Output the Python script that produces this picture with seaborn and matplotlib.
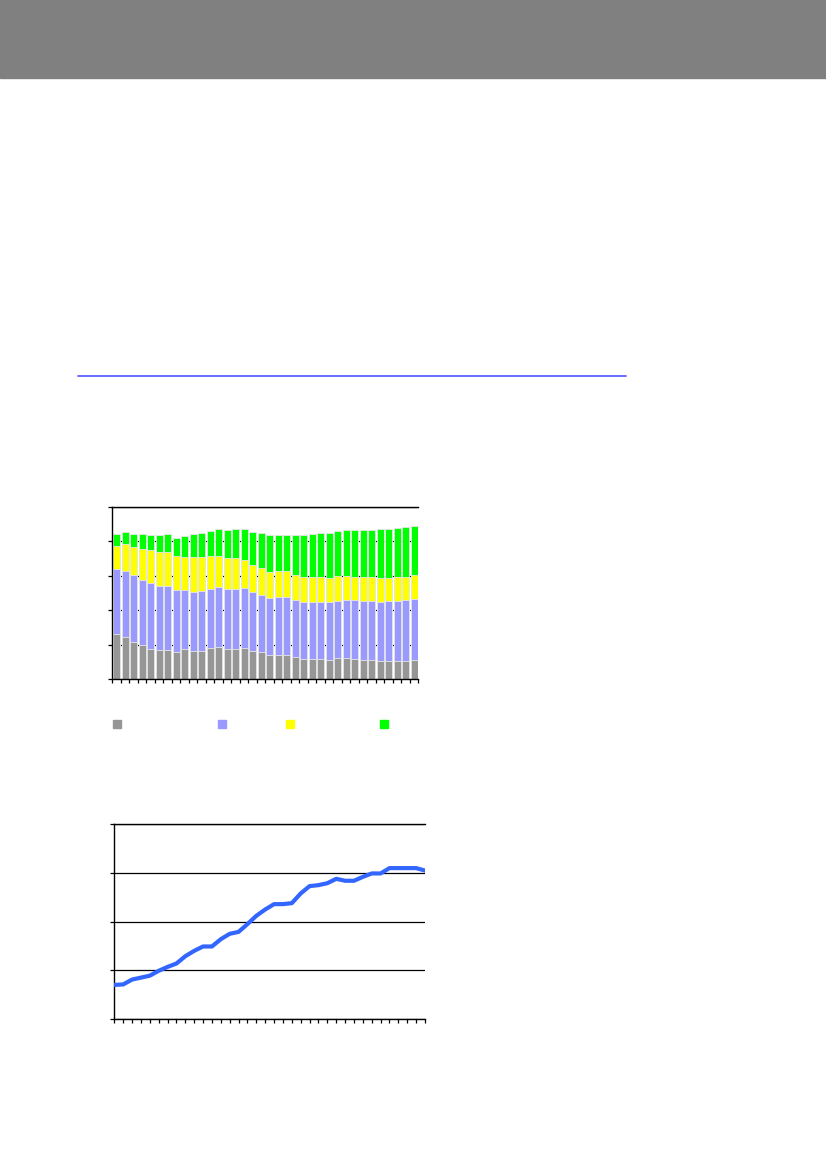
import numpy as np
import pandas as pd
import matplotlib
matplotlib.use("Agg")
import matplotlib.pyplot as plt
from matplotlib.lines import Line2D
from matplotlib.patches import Rectangle
import seaborn as sns

sns.set_style("white")

# Datos (36 periodos)
periodos = list(range(36))
gris = [13.2, 12.3, 10.7, 9.9, 8.7, 8.4, 8.4, 7.8, 8.7, 8.1, 8.1, 9.0,
        9.3, 8.7, 8.7, 9.0, 8.1, 7.8, 7.1, 7.1, 7.1, 6.5, 5.9, 5.9,
        5.9, 5.6, 6.2, 6.2, 5.9, 5.6, 5.6, 5.3, 5.3, 5.3, 5.3, 5.6]
azul = [18.7, 19.1, 19.4, 18.8, 19.2, 18.7, 18.7, 18.0, 17.1, 17.1, 17.4, 17.1,
        17.5, 17.4, 17.4, 17.4, 17.1, 16.5, 16.4, 16.7, 16.7, 16.4, 16.4, 16.4,
        16.4, 16.7, 16.4, 16.7, 17.0, 17.0, 17.0, 17.0, 17.3, 17.3, 17.6, 17.6]
amarillo = [6.7, 7.8, 8.1, 9.1, 9.5, 9.7, 9.7, 9.8, 9.5, 10.1, 9.8, 9.5,
            8.8, 8.9, 8.9, 8.0, 7.9, 7.8, 7.5, 7.5, 7.5, 7.4, 7.4, 7.3,
            7.3, 7.0, 7.2, 6.9, 6.7, 7.0, 7.0, 7.0, 6.7, 7.0, 6.7, 6.9]
verde = [3.4, 3.4, 4.0, 4.3, 4.5, 4.9, 5.2, 5.4, 6.3, 6.7, 7.0, 7.3,
         7.9, 8.1, 8.5, 9.1, 9.7, 10.3, 10.9, 10.6, 10.6, 11.6, 12.2, 12.4,
         12.7, 13.2, 13.1, 13.3, 13.5, 13.5, 13.5, 14.2, 14.2, 14.2, 14.5, 14.3]
linea = [7.0, 7.1, 8.1, 8.5, 8.9, 9.9, 10.7, 11.4, 12.9, 14.0, 14.9, 14.9,
         16.4, 17.5, 17.9, 19.5, 21.2, 22.5, 23.6, 23.6, 23.8, 25.8, 27.3, 27.5,
         27.9, 28.8, 28.4, 28.4, 29.2, 29.9, 29.9, 31.0, 31.0, 31.0, 31.0, 30.5]

colores = ["#969696", "#9999FF", "#FFFF00", "#00FF00"]

df = pd.DataFrame({"periodo": periodos, "gris": gris, "azul": azul,
                   "amarillo": amarillo, "verde": verde})
series = ["gris", "azul", "amarillo", "verde"]
acum = df[series].cumsum(axis=1)
acum["periodo"] = df["periodo"]

fig = plt.figure(figsize=(8.26, 11.69), dpi=100)

# Cabecera gris
fig.patches.append(Rectangle((0, 1 - 78 / 1169), 1, 78 / 1169,
                             transform=fig.transFigure, color="#808080", zorder=0))
# Línea azul separadora
fig.lines.append(Line2D([78 / 826, 626 / 826], [1 - 376 / 1169] * 2,
                        transform=fig.transFigure, color="#5050FF", linewidth=1.2))

# --- Gráfico de barras apiladas ---
ax1 = fig.add_axes([112.3 / 826, 490 / 1169, 306 / 826, 172.3 / 1169])
for serie, color in reversed(list(zip(series, colores))):
    sns.barplot(data=acum, x="periodo", y=serie, color=color, width=0.82,
                edgecolor="#e6e6e6", linewidth=0.6, saturation=1, ax=ax1, zorder=2)
ax1.set_ylim(0, 50)
ax1.set_xlim(-0.5, 35.5)
ax1.set_yticks(np.arange(0, 51, 10))
ax1.set_xticks(np.arange(-0.5, 36, 1))
ax1.set_xticklabels([])
ax1.set_yticklabels([])
ax1.set_xlabel("")
ax1.set_ylabel("")
ax1.grid(axis="y", color="black", linewidth=0.9, zorder=0)
ax1.set_axisbelow(True)

# Leyenda (solo marcadores)
for xpos, color in zip([113, 218, 286, 380], colores):
    fig.patches.append(Rectangle((xpos / 826, 1 - 728 / 1169), 8 / 826, 8 / 1169,
                                 transform=fig.transFigure, color=color))

# --- Gráfico de línea ---
ax2 = fig.add_axes([114.3 / 826, 150 / 1169, 310.7 / 826, 194.7 / 1169])
sns.lineplot(x=periodos, y=linea, color="#3366FF", linewidth=3.0, ax=ax2, zorder=3)
ax2.set_xlim(0, 35)
ax2.set_ylim(0, 40)
ax2.set_yticks(np.arange(0, 41, 10))
ax2.set_xticks(periodos)
ax2.set_xticklabels([])
ax2.set_yticklabels([])
ax2.grid(axis="y", color="black", linewidth=0.9, zorder=0)
ax2.set_axisbelow(True)

for ax in (ax1, ax2):
    ax.spines["right"].set_visible(False)
    for s in ("left", "bottom", "top"):
        ax.spines[s].set_color("black")
        ax.spines[s].set_linewidth(1.0)
    ax.tick_params(axis="both", which="both", direction="out", length=3,
                   width=0.9, color="black", bottom=True, left=True)
    ax.set_facecolor("white")

fig.savefig("out.png", dpi=100)
